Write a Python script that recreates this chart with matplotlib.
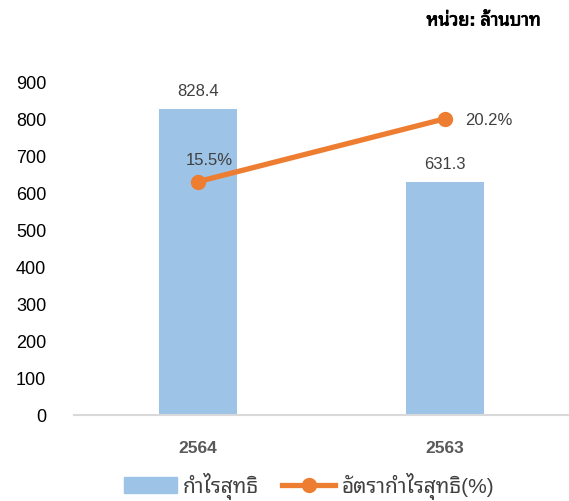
import matplotlib.pyplot as plt
import matplotlib.patheffects as pe
from matplotlib.lines import Line2D
from matplotlib.patches import Patch

plt.rcParams['font.family'] = ['Liberation Sans', 'Noto Sans Thai Looped', 'DejaVu Sans']

years = ["2564", "2563"]
net_profit = [828.4, 631.3]
margin = [15.5, 20.2]

BAR_C = "#9DC3E6"
LINE_C = "#ED7D31"

fig = plt.figure(figsize=(5.69, 5.01), dpi=100)
ax = fig.add_axes([74 / 569, 1 - 415 / 501, 495 / 569, (415 - 82.5) / 501])

x = list(range(len(years)))
ax.bar(x, net_profit, width=0.315, color=BAR_C, zorder=2)
ax.set_xlim(-0.5, 1.5)
ax.set_ylim(0, 900)
ax.set_yticks(range(0, 901, 100))
ax.tick_params(axis='y', length=0, labelsize=13, pad=20)
ax.tick_params(axis='x', length=0, labelsize=12.5, pad=19, colors="#595959")
ax.set_xticks(x)
ax.set_xticklabels(years, fontweight='bold')
for s in ["top", "right", "left"]:
    ax.spines[s].set_visible(False)
ax.spines["bottom"].set_color("#D9D9D9")
ax.spines["bottom"].set_linewidth(1.5)
for i, v in enumerate(net_profit):
    ax.annotate(f"{v:.1f}", (i, v), xytext=(0, 7), textcoords="offset points",
                ha="center", va="bottom", fontsize=12, color="#404040")

ax2 = ax.twinx()
ax2.plot(x, margin, color=LINE_C, lw=3.8, marker="o", ms=10, zorder=3)
ax2.set_ylim(-1.9, 22.9)
ax2.axis("off")
ax2.annotate(f"{margin[0]}%", (0, margin[0]), xytext=(8, 10), textcoords="offset points",
             ha="center", va="bottom", fontsize=12, color="#404040")
ax2.annotate(f"{margin[1]}%", (1, margin[1]), xytext=(14, -1), textcoords="offset points",
             ha="left", va="center", fontsize=12, color="#404040")

fig.text(541 / 569, 1 - 21 / 501, "หน่วย: ล้านบาท", ha="right", va="center",
         fontsize=13, fontweight="bold",
         path_effects=[pe.withStroke(linewidth=0.6, foreground="black")])

handles = [Patch(color=BAR_C),
           Line2D([0], [0], color=LINE_C, lw=3.8, marker="o", ms=10)]
fig.legend(handles, ["กำไรสุทธิ", "อัตรากำไรสุทธิ(%)"], loc="center",
           bbox_to_anchor=(309 / 569, 1 - 486 / 501), ncol=2, frameon=False,
           fontsize=15, labelcolor="#404040", handlelength=2.55, handleheight=0.8,
           handletextpad=0.3, columnspacing=1.1, borderpad=0.2)

fig.savefig("out.png", dpi=100)
